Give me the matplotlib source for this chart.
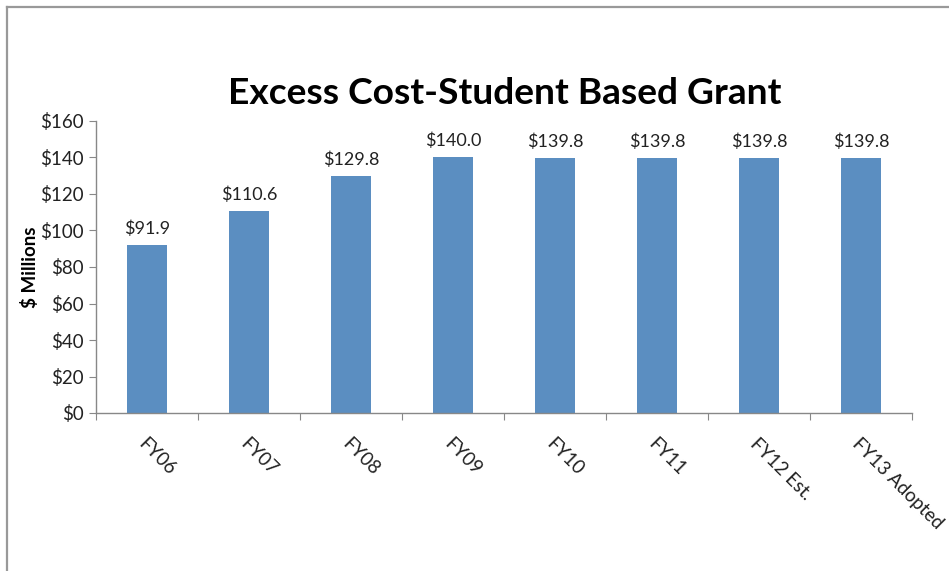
import matplotlib
matplotlib.use("Agg")
import matplotlib.pyplot as plt
from matplotlib.lines import Line2D

categories = ["FY06", "FY07", "FY08", "FY09", "FY10", "FY11", "FY12 Est.", "FY13 Adopted"]
values = [91.9, 110.6, 129.8, 140.0, 139.8, 139.8, 139.8, 139.8]
yticks = [0, 20, 40, 60, 80, 100, 120, 140, 160]
title = "Excess Cost-Student Based Grant"
ylabel = "$ Millions"

plt.rcParams['font.family'] = ['Lato', 'DejaVu Sans']

W, H = 949, 571
fig = plt.figure(figsize=(W / 100, H / 100), dpi=100)
ax = fig.add_axes([96 / W, 1 - 413 / H, (912 - 96) / W, (413 - 121) / H])

x = list(range(len(categories)))
bars = ax.bar(x, values, width=0.4, color="#5B8EC1")
ax.set_xlim(-0.5, len(categories) - 0.5)
ax.set_ylim(0, 160)
ax.set_yticks(yticks)
ax.set_yticklabels([f"${v}" for v in yticks], fontsize=13.5, color="#222222")

for xi, v in zip(x, values):
    ax.annotate(f"${v:.1f}", (xi, v), xytext=(0, 6), textcoords="offset points",
                ha="center", va="bottom", fontsize=13, color="#222222")

# category ticks at boundaries
ax.set_xticks([i - 0.5 for i in range(len(categories) + 1)])
ax.set_xticklabels([])
ax.set_xticks(x, minor=True)
ax.set_xticklabels(categories, minor=True, rotation=-45, ha="left", va="top",
                   rotation_mode="anchor", fontsize=13.5, color="#222222")
ax.tick_params(axis="x", which="minor", length=0, pad=16)
ax.tick_params(axis="x", which="major", length=5, color="#888888", direction="out")
ax.tick_params(axis="y", length=5, color="#888888", direction="out", pad=4)

for s in ["top", "right"]:
    ax.spines[s].set_visible(False)
for s in ["left", "bottom"]:
    ax.spines[s].set_color("#888888")
    ax.spines[s].set_linewidth(1)

ax.set_ylabel(ylabel, fontsize=13.5, fontweight="bold")
ax.yaxis.set_label_coords(-57 / (912 - 96), 0.5)

fig.text(505 / W, 1 - 93 / H, title, ha="center", va="center", fontsize=26.7, fontweight="bold")

# border lines
fig.add_artist(Line2D([6.5 / W, 6.5 / W], [0, 1 - 7 / H], color="#999999", lw=1.6, transform=fig.transFigure))
fig.add_artist(Line2D([6.5 / W, 1], [1 - 7 / H, 1 - 7 / H], color="#999999", lw=1.6, transform=fig.transFigure))

fig.savefig("out.png", dpi=100)
